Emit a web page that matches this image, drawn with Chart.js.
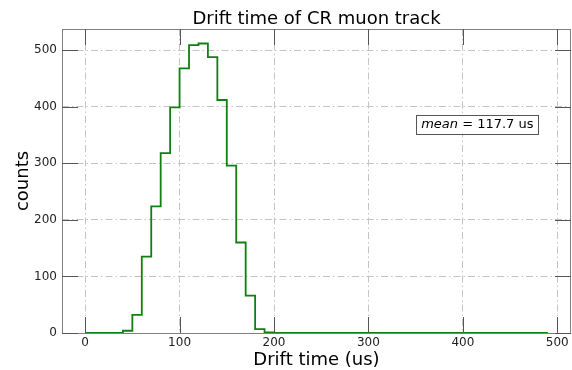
<!DOCTYPE html>
<html>
<head>
<meta charset="utf-8">
<script src="https://cdn.jsdelivr.net/npm/chart.js@4"></script>
<style>
  html, body { margin: 0; padding: 0; background: #fff; }
  #wrap { width: 572px; height: 370px; }
</style>
</head>
<body>
<div id="wrap"><canvas id="canvas" width="572" height="370"></canvas></div>
<script>
// histogram of drift times, 10 us bins starting at 0
const binWidth = 10;
const counts = [
  0, 0, 0, 0, 4, 32, 135, 224, 318, 399,
  468, 509, 512, 488, 412, 296, 160, 66, 7, 1,
  0, 0, 0, 0, 0, 0, 0, 0, 0, 0,
  0, 0, 0, 0, 0, 0, 0, 0, 0, 0,
  0, 0, 0, 0, 0, 0, 0, 0, 0
];
const xTicks = [0, 100, 200, 300, 400, 500];
const yTicks = [0, 100, 200, 300, 400, 500];
const titleText = 'Drift time of CR muon track';
const xLabel = 'Drift time (us)';
const yLabel = 'counts';
const meanText = ' = 117.7 us';

const FONT = "'DejaVu Sans', sans-serif";

// step outline: left edge of each bin, plus the closing right edge
const points = counts.map((c, i) => ({ x: i * binWidth, y: c }));
points.push({ x: counts.length * binWidth, y: counts[counts.length - 1] });

const extras = {
  id: 'extras',
  afterDraw(chart) {
    const ctx = chart.ctx;
    const a = chart.chartArea;
    const xs = chart.scales.x, ys = chart.scales.y;
    ctx.save();

    // frame
    ctx.strokeStyle = '#808080';
    ctx.lineWidth = 1;
    ctx.strokeRect(a.left + 0.5, a.top + 0.5, a.right - a.left - 1, a.bottom - a.top);

    // inward ticks on all four sides
    const len = 16;
    ctx.strokeStyle = '#555';
    ctx.beginPath();
    xTicks.forEach(v => {
      const px = Math.round(xs.getPixelForValue(v)) + 0.5;
      ctx.moveTo(px, a.bottom); ctx.lineTo(px, a.bottom - len);
      ctx.moveTo(px, a.top); ctx.lineTo(px, a.top + len);
    });
    yTicks.forEach(v => {
      const py = Math.round(ys.getPixelForValue(v)) + 0.5;
      ctx.moveTo(a.left, py); ctx.lineTo(a.left + len, py);
      ctx.moveTo(a.right, py); ctx.lineTo(a.right - len, py);
    });
    ctx.stroke();

    // titles
    ctx.fillStyle = '#000';
    ctx.font = '18px ' + FONT;
    ctx.textAlign = 'center';
    ctx.textBaseline = 'alphabetic';
    const cx = (a.left + a.right) / 2;
    ctx.fillText(titleText, cx, 24);
    ctx.fillText(xLabel, cx, 365);
    ctx.save();
    ctx.translate(28, (a.top + a.bottom) / 2);
    ctx.rotate(-Math.PI / 2);
    ctx.fillText(yLabel, 0, 0);
    ctx.restore();

    // mean annotation box
    ctx.font = 'italic 13px ' + FONT;
    const w1 = ctx.measureText('mean').width;
    ctx.font = '13px ' + FONT;
    const w2 = ctx.measureText(meanText).width;
    const bx = a.left + 0.816 * (a.right - a.left);
    const by = a.bottom - 0.6875 * (a.bottom - a.top);
    const tw = w1 + w2;
    const bw = tw + 10, bh = 19;
    ctx.fillStyle = '#fff';
    ctx.fillRect(bx - bw / 2, by - bh / 2, bw, bh);
    ctx.strokeStyle = '#555';
    ctx.strokeRect(Math.round(bx - bw / 2) + 0.5, Math.round(by - bh / 2) + 0.5, Math.round(bw), Math.round(bh));
    ctx.fillStyle = '#000';
    ctx.textAlign = 'left';
    ctx.textBaseline = 'middle';
    ctx.font = 'italic 13px ' + FONT;
    ctx.fillText('mean', bx - tw / 2, by + 1);
    ctx.font = '13px ' + FONT;
    ctx.fillText(meanText, bx - tw / 2 + w1, by + 1);
    ctx.restore();
  }
};

const chart = new Chart(document.getElementById('canvas'), {
  type: 'line',
  data: {
    datasets: [{
      data: points,
      stepped: 'before',
      borderColor: '#108010',
      borderWidth: 1.8,
      pointRadius: 0,
      fill: false
    }]
  },
  options: {
    responsive: false,
    animation: false,
    layout: { padding: { top: 29, right: 1, left: 0, bottom: 0 } },
    plugins: { legend: { display: false }, tooltip: { enabled: false } },
    scales: {
      x: {
        type: 'linear',
        min: -24.5,
        max: 514.5,
        afterBuildTicks: s => { s.ticks = xTicks.map(v => ({ value: v })); },
        afterFit: s => { s.height = 37; },
        grid: { color: '#c4c4c4', lineWidth: 1, drawTicks: false },
        border: { display: false, dash: [7, 3, 1.5, 3] },
        ticks: { color: '#222', font: { family: FONT, size: 12 }, padding: 3, maxRotation: 0 }
      },
      y: {
        type: 'linear',
        min: 0,
        max: 537.6,
        afterBuildTicks: s => { s.ticks = yTicks.map(v => ({ value: v })); },
        afterFit: s => { s.width = 62; },
        grid: { color: '#c4c4c4', lineWidth: 1, drawTicks: false },
        border: { display: false, dash: [7, 3, 1.5, 3] },
        ticks: { color: '#222', font: { family: FONT, size: 12 }, padding: 5 }
      }
    }
  },
  plugins: [extras]
});
</script>
</body>
</html>
